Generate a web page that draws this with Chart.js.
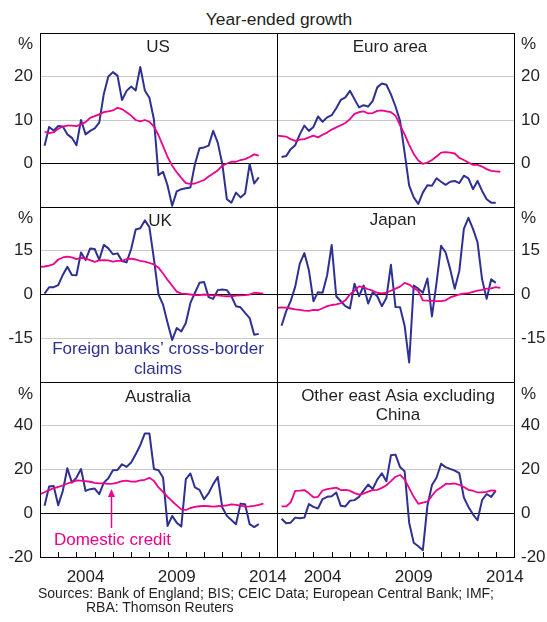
<!DOCTYPE html>
<html>
<head>
<meta charset="utf-8">
<title>Year-ended growth</title>
<script src="https://cdn.jsdelivr.net/npm/chart.js@4.4.1/dist/chart.umd.min.js"></script>
<style>
  body { margin: 0; background: #fff; }
  #page { position: relative; width: 547px; height: 622px; overflow: hidden; font-family: "Liberation Sans", Arial, sans-serif; color: #231f20; }
  #page canvas { position: absolute; }
  .note { position: absolute; white-space: nowrap; }
</style>
</head>
<body>
<div id="page">
  <div class="note" style="left:129px; top:11px; width:300px; text-align:center; font-size:17.4px; line-height:17px;">Year-ended growth</div>
  <canvas id="us"></canvas>
  <canvas id="euro"></canvas>
  <canvas id="uk"></canvas>
  <canvas id="japan"></canvas>
  <canvas id="australia"></canvas>
  <canvas id="asia"></canvas>
  <div class="note" style="left:38px; top:586px; font-size:14px; line-height:14px;">Sources: Bank of England; BIS; CEIC Data; European Central Bank; IMF;</div>
  <div class="note" style="left:86px; top:600px; font-size:14px; line-height:14px;">RBA: Thomson Reuters</div>
</div>
<script>
// quarterly observations, as year fractions
const quarters = [
  2002, 2002.25, 2002.5, 2002.75, 2003, 2003.25, 2003.5, 2003.75,
  2004, 2004.25, 2004.5, 2004.75, 2005, 2005.25, 2005.5, 2005.75,
  2006, 2006.25, 2006.5, 2006.75, 2007, 2007.25, 2007.5, 2007.75,
  2008, 2008.25, 2008.5, 2008.75, 2009, 2009.25, 2009.5, 2009.75,
  2010, 2010.25, 2010.5, 2010.75, 2011, 2011.25, 2011.5, 2011.75,
  2012, 2012.25, 2012.5, 2012.75, 2013, 2013.25, 2013.5, 2013.75,
  2014, 2014.25
];
const yearLabels = ['2004', '2009', '2014'];
const ticksTop = [0, 10, 20];
const ticksMid = [-15, 0, 15];
const ticksBottom = [-20, 0, 20, 40];

// foreign banks' cross-border claims
const usClaims = [null, 4.1, 8.4, 7.6, 8.6, 8.5, 6.7, 5.9, 4.2, 10, 6.7, 7.5, 8.1, 9.4, 16, 20, 21, 20.2, 14.6, 16.7, 17.7, 16.8, 22.2, 16.8, 15.1, 10.1, -2.7, -1.9, -5.1, -9.7, -6.4, -5.9, -5.7, -5.5, -0.1, 3.5, 3.7, 4.1, 7.5, 4.8, -0.1, -8.2, -9, -6.7, -7.8, -6.9, -0.1, -4.6, -3.2, null];
const euroClaims = [null, 1.5, 1.7, 3.3, 4.2, 6.7, 8.7, 7.5, 8.4, 10.8, 9.6, 10.6, 11.1, 12.7, 14.6, 15.2, 16.7, 14.8, 12.9, 13.4, 13.1, 14.4, 17.5, 18.4, 18.1, 15.9, 13.1, 9.8, 2.5, -5.1, -7.8, -9.3, -6.7, -5.0, -5.1, -3.4, -4.2, -4.9, -4.2, -4.0, -4.5, -2.8, -3.4, -5.9, -4.0, -6.3, -8.2, -9.0, -9.0, null];
const ukClaims = [null, 0.3, 2.5, 2.5, 3.2, 6.7, 9.5, 6.7, 6.6, 14.4, 11.8, 15.8, 15.6, 11.9, 17, 15.8, 13.8, 14.1, 11.5, 11, 15.6, 22.3, 22.7, 25.4, 23.1, 12.1, 0, -3.5, -9.8, -15.6, -11.5, -12.7, -9.8, -2.9, 0.6, 4, 4.3, -0.9, -1.5, 1.5, 1.7, 1.5, -0.6, -4, -4.4, -6.3, -8.1, -13.8, -13.5, null];
const japanClaims = [null, -10.7, -5.8, -2.3, 2.7, 10.6, 14.2, 8.3, -2.3, 0.8, 0.6, 6.6, 17, -0.6, -2.3, -4, -4.8, 3.7, -0.6, 3.1, -3.1, 0.8, -0.6, -4, -1.2, 10.2, -4.3, -4.4, -10.7, -23.3, 3.1, 2, 0.6, 5.5, -7.5, 4, 16.7, 14.4, 8.7, 2, 8.1, 22.5, 26.3, 22.5, 17.9, 5.2, -1.5, 5.2, 4, null];
const australiaClaims = [null, 3.4, 12.2, 12.5, 3.7, 10.2, 20.6, 14, 16.3, 20.2, 10.2, 11, 11.3, 8.7, 14, 16, 19.7, 19.8, 22.4, 21.2, 23.2, 27, 31.1, 36.5, 36.5, 20.2, 19.7, 16.3, -5.8, -1.2, -4.3, -6.1, 15.6, 18.2, 11.8, 10.7, 6.4, 9.2, 13.3, 16.6, 2.6, -1.2, -3.1, -5, 4.4, 4.1, -5, -6.3, -5, null];
const asiaClaims = [null, -2.5, -4.6, -4.3, -2, -2.3, -2, 4.2, 2.9, 2.2, 6.5, 7.5, 7.8, 9.5, 3.4, 3.1, 5.7, 6, 7.5, 10.3, 13.1, 11.1, 15.4, 18.3, 14.6, 26.5, 26.8, 21.1, 19.2, -4.3, -13.5, -15.1, -16.9, 3.4, 12.9, 16.2, 22.6, 21.1, 20.3, 19.5, 18.3, 7.2, 2.9, -0.5, -3.2, 6, 8.8, 7.5, 10.3, null];

// domestic credit
const usCredit = [null, 7.3, 7.0, 7.2, 8.0, 8.5, 8.7, 8.7, 8.6, 9.0, 9.5, 10.5, 10.9, 11.3, 11.8, 12.0, 12.2, 12.8, 12.5, 11.8, 11.0, 10.0, 9.7, 10.0, 9.6, 8.5, 6.5, 4.0, 1.5, -0.5, -2.0, -3.3, -4.5, -4.7, -4.6, -4.2, -3.8, -3.0, -2.3, -1.6, -0.5, 0.0, 0.4, 0.4, 0.8, 1.0, 1.5, 2.1, 1.8, null];
const euroCredit = [6.4, 6.3, 6.2, 5.6, 5.2, 5.5, 5.6, 6.0, 6.4, 6.0, 6.6, 7.1, 7.8, 8.3, 8.8, 9.3, 10.2, 11.4, 11.8, 12.0, 11.5, 11.6, 12.1, 12.2, 12.0, 11.8, 11.0, 8.8, 6.7, 4.3, 2.2, 0.7, -0.1, 0.2, 0.8, 1.6, 2.5, 2.6, 2.5, 2.3, 1.3, 0.8, 0.2, -0.3, -0.3, -0.7, -1.3, -1.7, -1.8, -1.9];
const ukCredit = [9.5, 9.6, 9.9, 10.4, 12.0, 12.7, 13.0, 12.7, 12.1, 12.6, 12.3, 11.8, 11.2, 11.7, 11.8, 11.7, 11.3, 11.5, 11.5, 12.1, 12.3, 12.0, 11.5, 11.3, 10.8, 10.3, 9.2, 7.2, 5.0, 3.0, 1.0, 0.3, 0.2, 0, -0.2, -0.2, 0, -0.2, -0.3, -0.3, -0.5, -0.6, -0.6, -0.4, -0.3, -0.2, 0, 0.6, 0.5, 0.3];
const japanCredit = [-4.6, -4.4, -4.5, -4.8, -5.1, -5.3, -5.5, -5.6, -5.3, -5.4, -4.7, -4.0, -3.6, -3.4, -3.0, -2.0, 0.0, 1.3, 2.8, 2.5, 1.8, 1.3, 0.6, 0.4, 0.6, 1.3, 2.0, 2.7, 4.0, 3.4, 2.2, 1.2, -2.0, -2.1, -2.2, -2.3, -2.3, -2.0, -1.0, -0.5, 0, 0.3, 0.5, 0.9, 1.3, 1.6, 2.0, 2.1, 2.5, 2.3];
const australiaCredit = [8.7, 9.6, 10.6, 11.5, 12.0, 12.7, 13.6, 14.2, 15.0, 14.9, 14.7, 14.4, 13.9, 13.7, 13.7, 13.4, 13.5, 14.0, 14.7, 14.9, 14.5, 14.5, 15.0, 15.3, 16.2, 14.8, 11.8, 9.8, 7.5, 5.5, 3.6, 1.8, 1.5, 2.4, 2.9, 3.2, 3.4, 3.2, 3.0, 3.2, 3.4, 3.6, 4.1, 3.8, 3.5, 3.0, 3.1, 3.4, 3.8, 4.4];
const asiaCredit = [null, 3.1, 3.1, 5.0, 10.2, 10.3, 10.6, 9.1, 7.3, 7.5, 10.4, 11.0, 11.4, 11.7, 10.6, 10.7, 10.3, 9.2, 8.5, 9.0, 9.9, 10.6, 10.7, 11.6, 12.8, 14.7, 16.7, 17.5, 15.5, 11.5, 7.5, 4.3, 4.9, 5.3, 8.0, 10.5, 11.8, 13.4, 13.4, 13.6, 13.0, 12.0, 10.7, 10.3, 9.5, 9.5, 9.8, 10.5, 10.3, null];

const BLUE = '#2e3192';
const PINK = '#ec008c';
const INK = '#231f20';
const GRID = '#c8c8c8';
const FONT = '"Liberation Sans", Arial, sans-serif';

const rows = [
  { min: -10, max: 30, step: 10, ticks: ticksTop, top: 25, height: 190, padBottom: 8, pct: 43 },
  { min: -30, max: 30, step: 15, ticks: ticksMid, top: 199, height: 191, padBottom: 8, pct: 216.5 },
  { min: -20, max: 60, step: 20, ticks: ticksBottom, top: 374, height: 222, padBottom: 9, pct: 392.5, years: true }
];
const cols = [
  { left: 0, width: 300, padLeft: 0, padRight: 23, axis: 'left', axisWidth: 40, pctX: 33, pctAlign: 'right' },
  { left: 262, width: 285, padLeft: 15, padRight: 0, axis: 'right', axisWidth: 33, pctX: 521, pctAlign: 'left' }
];

const panels = [
  { id: 'us', row: 0, col: 0, claims: usClaims, credit: usCredit,
    texts: [{ text: 'US', x: 158, y: 46 }] },
  { id: 'euro', row: 0, col: 1, claims: euroClaims, credit: euroCredit,
    texts: [{ text: 'Euro area', x: 390, y: 46 }] },
  { id: 'uk', row: 1, col: 0, claims: ukClaims, credit: ukCredit,
    texts: [{ text: 'UK', x: 160, y: 219.5 },
            { text: 'Foreign banks\u2019 cross-border', x: 158, y: 348, color: BLUE },
            { text: 'claims', x: 158, y: 368, color: BLUE }] },
  { id: 'japan', row: 1, col: 1, claims: japanClaims, credit: japanCredit,
    texts: [{ text: 'Japan', x: 393, y: 219 }] },
  { id: 'australia', row: 2, col: 0, claims: australiaClaims, credit: australiaCredit,
    texts: [{ text: 'Australia', x: 158, y: 395.5 },
            { text: 'Domestic credit', x: 112.5, y: 539, color: PINK }],
    arrow: { x: 111, from: 528, to: 489 } },
  { id: 'asia', row: 2, col: 1, claims: asiaClaims, credit: asiaCredit,
    texts: [{ text: 'Other east Asia excluding', x: 398, y: 395 },
            { text: 'China', x: 398, y: 414 }] }
];

// frame, inner year ticks, panel titles and notes
function decor(p, row, col) {
  return {
    id: 'decor',
    afterDraw(chart) {
      const ctx = chart.ctx, a = chart.chartArea;
      const put = t => {
        const size = t.size || 17;
        ctx.font = size + 'px ' + FONT;
        ctx.fillStyle = t.color || INK;
        ctx.textAlign = t.align || 'center';
        ctx.textBaseline = 'alphabetic';
        ctx.fillText(t.text, t.x - col.left, t.y - row.top + 0.36 * size);
      };
      ctx.save();
      ctx.strokeStyle = '#000';
      ctx.lineWidth = 1;
      ctx.strokeRect(a.left + 0.5, a.top + 0.5, a.right - a.left, a.bottom - a.top);
      if (row.years) {
        const xs = chart.scales.x;
        ctx.beginPath();
        for (let yr = xs.min + 1; yr < xs.max; yr++) {
          const px = Math.round(xs.getPixelForValue(yr)) + 0.5;
          ctx.moveTo(px, a.bottom);
          ctx.lineTo(px, a.bottom - 5);
        }
        ctx.stroke();
      }
      put({ text: '%', x: col.pctX, y: row.pct, align: col.pctAlign });
      p.texts.forEach(put);
      if (p.arrow) {
        const x = p.arrow.x - col.left + 0.5;
        const y0 = p.arrow.from - row.top, y1 = p.arrow.to - row.top;
        ctx.strokeStyle = PINK;
        ctx.fillStyle = PINK;
        ctx.lineWidth = 1.5;
        ctx.beginPath();
        ctx.moveTo(x, y0);
        ctx.lineTo(x, y1 + 6);
        ctx.stroke();
        ctx.beginPath();
        ctx.moveTo(x, y1);
        ctx.lineTo(x - 3.5, y1 + 8);
        ctx.lineTo(x + 3.5, y1 + 8);
        ctx.closePath();
        ctx.fill();
      }
      ctx.restore();
    }
  };
}

panels.forEach(p => {
  const row = rows[p.row], col = cols[p.col];
  const cv = document.getElementById(p.id);
  cv.width = col.width;
  cv.height = row.height;
  cv.style.left = col.left + 'px';
  cv.style.top = row.top + 'px';
  const pts = vals => quarters.map((q, i) => ({ x: q, y: vals[i] }));

  new Chart(cv, {
    type: 'line',
    data: {
      datasets: [
        { data: pts(p.credit), borderColor: PINK, borderWidth: 1.8 },
        { data: pts(p.claims), borderColor: BLUE, borderWidth: 2 }
      ]
    },
    options: {
      responsive: false,
      animation: false,
      events: [],
      devicePixelRatio: 1,
      layout: { padding: { top: 8, bottom: row.padBottom, left: col.padLeft, right: col.padRight } },
      elements: { point: { radius: 0 }, line: { tension: 0, borderJoinStyle: 'round' } },
      plugins: { legend: { display: false }, tooltip: { enabled: false } },
      scales: {
        x: {
          type: 'linear',
          min: 2002,
          max: 2015,
          display: !!row.years,
          afterBuildTicks: s => { s.ticks = yearLabels.map(y => ({ value: Number(y) + 0.5 })); },
          afterFit: s => {
            s.height = row.years ? 30 : 0;
            s.paddingLeft = 0;
            s.paddingRight = 0;
          },
          grid: { display: false, drawTicks: false },
          border: { display: false },
          ticks: {
            autoSkip: false, maxRotation: 0, padding: 10, color: INK,
            font: { family: FONT, size: 17 },
            callback: v => String(Math.floor(v))
          }
        },
        y: {
          position: col.axis,
          min: row.min,
          max: row.max,
          afterFit: s => {
            s.width = col.axisWidth;
            s.paddingTop = 0;
            s.paddingBottom = 0;
          },
          border: { display: false },
          grid: {
            drawTicks: false,
            lineWidth: 1,
            color: c => c.tick.value === 0 ? '#000'
              : (c.tick.value === row.min || c.tick.value === row.max ? 'rgba(0,0,0,0)' : GRID)
          },
          ticks: {
            stepSize: row.step, padding: 7, color: INK,
            font: { family: FONT, size: 17 },
            callback: v => row.ticks.includes(v) ? String(v) : ''
          }
        }
      }
    },
    plugins: [decor(p, row, col)]
  });
});
</script>
</body>
</html>
